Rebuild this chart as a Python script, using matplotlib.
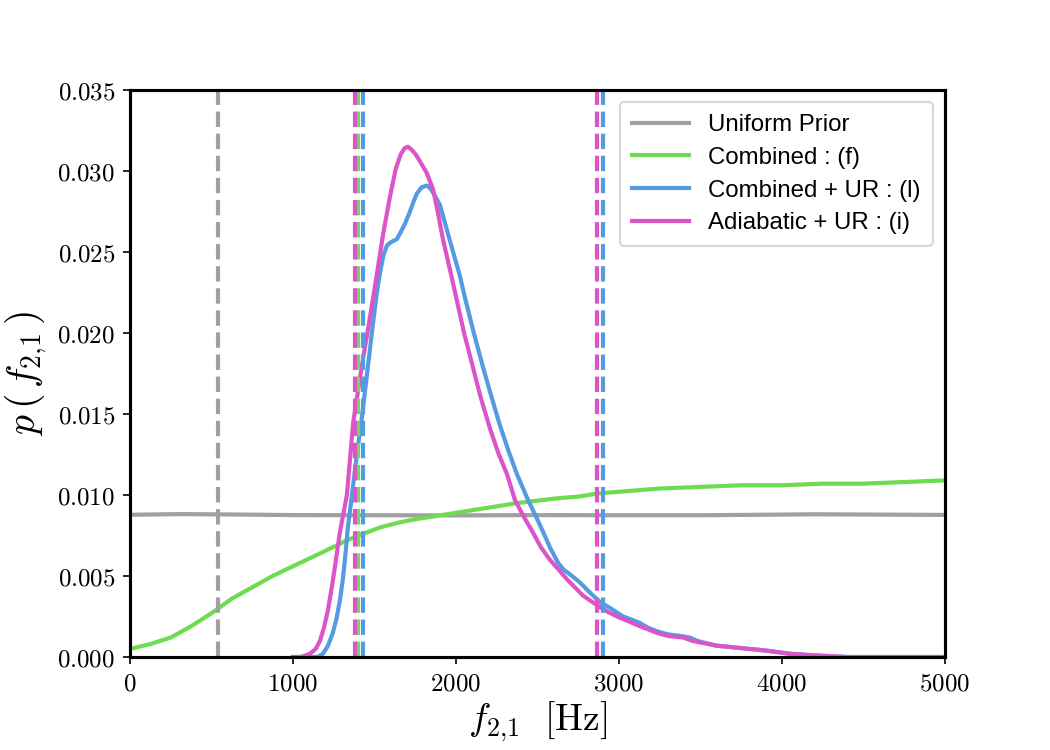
import matplotlib.pyplot as plt
from matplotlib.ticker import FuncFormatter

plt.rcParams['mathtext.fontset'] = 'cm'

# densities, frequency in Hz
x_prior = [0, 300, 600, 1000, 1500, 2000, 2500, 3000, 3500, 4000, 4200, 4600, 5000]
y_prior = [0.00878, 0.00882, 0.00880, 0.00876, 0.00875, 0.00874, 0.00876, 0.00875,
           0.00875, 0.00879, 0.00881, 0.00879, 0.00877]

x_comb = [0, 125, 250, 375, 500, 625, 750, 875, 1000, 1125, 1250, 1330, 1430, 1534,
          1650, 1750, 1875, 2000, 2125, 2250, 2375, 2500, 2625, 2750, 2875, 3000,
          3125, 3250, 3500, 3750, 4000, 4250, 4500, 4750, 5000]
y_comb = [0.0005, 0.0008, 0.0012, 0.0019, 0.0027, 0.0036, 0.0043, 0.0050, 0.0056,
          0.0062, 0.0068, 0.0072, 0.0076, 0.0080, 0.0083, 0.0085, 0.0087, 0.0089,
          0.0091, 0.0093, 0.0095, 0.00965, 0.0098, 0.0099, 0.0101, 0.0102, 0.0103,
          0.0104, 0.0105, 0.0106, 0.0106, 0.0107, 0.0107, 0.0108, 0.0109]

x_comb_ur = [1000, 1100, 1150, 1184, 1215, 1245, 1268, 1288, 1305, 1319, 1337, 1362,
             1392, 1423, 1455, 1490, 1515, 1534, 1555, 1577, 1600, 1620, 1638, 1660,
             1690, 1718, 1740, 1760, 1790, 1822, 1845, 1870, 1902, 1930, 1963, 2025,
             2055, 2110, 2166, 2220, 2270, 2320, 2374, 2442, 2490, 2536, 2580, 2628,
             2660, 2700, 2761, 2820, 2883, 2950, 3027, 3080, 3129, 3180, 3231, 3300,
             3380, 3436, 3480, 3517, 3600, 3700, 3800, 3900, 4050, 4200, 4400, 5000]
y_comb_ur = [0.0, 0.0, 0.0, 0.0002, 0.0007, 0.0015, 0.0024, 0.0035, 0.0047, 0.0060,
             0.0080, 0.0100, 0.0125, 0.0148, 0.0175, 0.0205, 0.0225, 0.0237, 0.0248,
             0.0254, 0.0256, 0.0257, 0.0258, 0.0262, 0.0268, 0.0275, 0.0281, 0.0286,
             0.0290, 0.0291, 0.0289, 0.0285, 0.0279, 0.0269, 0.0257, 0.0235, 0.0222,
             0.0200, 0.0179, 0.0160, 0.0143, 0.0128, 0.0113, 0.0097, 0.0087, 0.0077,
             0.0067, 0.0058, 0.0054, 0.0051, 0.0046, 0.0040, 0.0034, 0.0030, 0.0025,
             0.0023, 0.0021, 0.0018, 0.0016, 0.0014, 0.0013, 0.0012, 0.0010, 0.0009,
             0.0007, 0.0006, 0.0005, 0.0004, 0.0002, 0.0001, 0.0, 0.0]

x_adia_ur = [1000, 1050, 1104, 1140, 1166, 1190, 1215, 1240, 1258, 1288, 1331, 1370,
             1420, 1470, 1513, 1555, 1595, 1630, 1660, 1685, 1705, 1730, 1755, 1779,
             1820, 1859, 1890, 1920, 1950, 1975, 2006, 2050, 2104, 2150, 2209, 2260,
             2313, 2362, 2420, 2472, 2520, 2577, 2630, 2681, 2730, 2779, 2865, 2930,
             2988, 3060, 3129, 3180, 3231, 3300, 3395, 3450, 3497, 3599, 3700, 3800,
             3900, 4050, 4200, 4400, 5000]
y_adia_ur = [0.0, 0.0, 0.0002, 0.0005, 0.0010, 0.0018, 0.0029, 0.0044, 0.0056, 0.0077,
             0.0100, 0.0145, 0.0178, 0.0208, 0.0235, 0.0262, 0.0284, 0.0301, 0.0310,
             0.0314, 0.0315, 0.0313, 0.0310, 0.0306, 0.0299, 0.0289, 0.0274, 0.0258,
             0.0245, 0.0234, 0.0220, 0.0200, 0.0179, 0.0161, 0.0141, 0.0126, 0.0113,
             0.0097, 0.0086, 0.0077, 0.0068, 0.0060, 0.0054, 0.0048, 0.0043, 0.0038,
             0.0032, 0.0028, 0.0025, 0.0022, 0.0019, 0.0017, 0.0015, 0.0013, 0.0012,
             0.0010, 0.0009, 0.0007, 0.0006, 0.0005, 0.0004, 0.0002, 0.0001, 0.0, 0.0]

# 90% interval bounds (dashed lines)
bounds_prior = [540]
bounds_comb = [1399]
bounds_comb_ur = [1430, 2902]
bounds_adia_ur = [1380, 2865]

c_prior = '#a0a0a0'
c_comb = '#6edc50'
c_comb_ur = '#559be1'
c_adia_ur = '#dc55c8'

fig = plt.figure(figsize=(7, 5), dpi=150)
ax = fig.add_axes([0.1238, 0.124, 0.776, 0.756])

ax.plot(x_prior, y_prior, color=c_prior, lw=2, label='Uniform Prior')
ax.plot(x_comb, y_comb, color=c_comb, lw=2, label='Combined : (f)')
ax.plot(x_comb_ur, y_comb_ur, color=c_comb_ur, lw=2, label='Combined + UR : (l)')
ax.plot(x_adia_ur, y_adia_ur, color=c_adia_ur, lw=2, label='Adiabatic + UR : (i)')

for b in bounds_prior:
    ax.axvline(b, color=c_prior, lw=2, ls='--')
for b in bounds_comb:
    ax.axvline(b, color=c_comb, lw=2, ls='--')
for b in bounds_comb_ur:
    ax.axvline(b, color=c_comb_ur, lw=2, ls='--')
for b in bounds_adia_ur:
    ax.axvline(b, color=c_adia_ur, lw=2, ls='--')

ax.set_xlim(0, 5000)
ax.set_ylim(0, 0.035)
ax.set_xticks([0, 1000, 2000, 3000, 4000, 5000])
ax.set_yticks([0, 0.005, 0.01, 0.015, 0.02, 0.025, 0.03, 0.035])
ax.xaxis.set_major_formatter(FuncFormatter(lambda v, p: r'$%d$' % v))
ax.yaxis.set_major_formatter(FuncFormatter(lambda v, p: r'$%.3f$' % v))
ax.tick_params(labelsize=12)
for s in ax.spines.values():
    s.set_linewidth(1.5)

ax.set_xlabel(r'$f_{2{,}1}\ \ [\mathrm{Hz}]$', fontsize=18, labelpad=2)
ax.set_ylabel(r'$p\,(\,f_{2{,}1}\,)$', fontsize=19)

ax.legend(loc='upper right', prop={'family': 'Liberation Sans', 'size': 11.5},
          handlelength=2.4, handletextpad=0.8, borderpad=0.5, labelspacing=0.45)

fig.savefig('out.png', dpi=150)
